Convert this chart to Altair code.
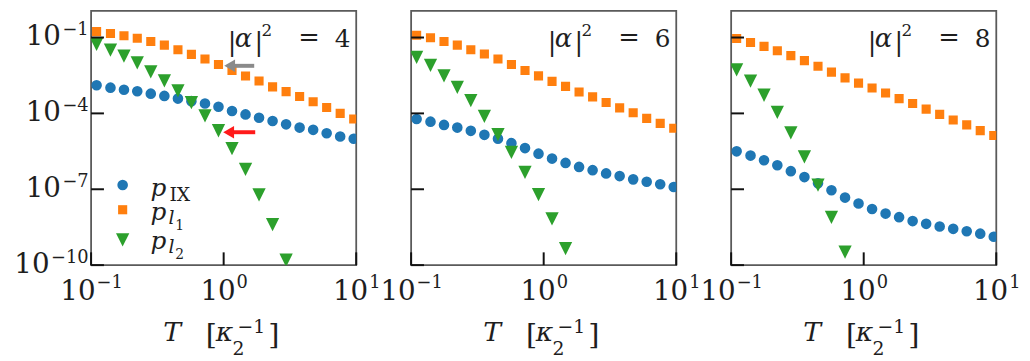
import math
import altair as alt
import pandas as pd

# ---------------- data ----------------
T = [0.110, 0.140, 0.177, 0.223, 0.282, 0.357, 0.452, 0.571, 0.723, 0.914,
     1.156, 1.462, 1.849, 2.339, 2.958, 3.741, 4.732, 5.984, 7.568, 9.572]

panel_alpha2 = ["4", "6", "8"]

p_IX = [
    [1.29e-3, 1.04e-3, 8.65e-4, 7.50e-4, 6.04e-4, 4.91e-4, 3.85e-4, 3.05e-4, 2.45e-4, 1.82e-4,
     1.24e-4, 9.1e-5, 6.76e-5, 5.01e-5, 3.69e-5, 2.74e-5, 2.23e-5, 1.64e-5, 1.22e-5, 9.9e-6],
    [6.01e-5, 4.71e-5, 3.50e-5, 2.74e-5, 2.04e-5, 1.42e-5, 9.9e-6, 6.67e-6, 4.25e-6, 2.56e-6,
     1.63e-6, 1.10e-6, 7.67e-7, 5.69e-7, 4.23e-7, 3.32e-7, 2.46e-7, 1.98e-7, 1.57e-7, 1.23e-7],
    [3.15e-6, 2.14e-6, 1.40e-6, 8.93e-7, 5.20e-7, 3.03e-7, 1.72e-7, 9.14e-8, 4.69e-8, 2.73e-8,
     1.65e-8, 1.09e-8, 7.9e-9, 5.5e-9, 4.3e-9, 3.38e-9, 2.72e-9, 2.19e-9, 1.76e-9, 1.33e-9],
]
p_l1 = [
    [1.72e-1, 1.44e-1, 1.17e-1, 9.40e-2, 6.97e-2, 5.00e-2, 3.30e-2, 2.16e-2, 1.42e-2, 8.55e-3,
     5.01e-3, 3.02e-3, 1.91e-3, 1.12e-3, 7.24e-4, 4.68e-4, 2.88e-4, 1.70e-4, 1.00e-4, 6.0e-5],
    [1.23e-1, 9.77e-2, 6.97e-2, 5.00e-2, 3.30e-2, 2.22e-2, 1.42e-2, 8.55e-3, 4.98e-3, 3.05e-3,
     1.85e-3, 1.17e-3, 7.03e-4, 4.49e-4, 2.69e-4, 1.66e-4, 1.06e-4, 6.34e-5, 4.05e-5, 2.58e-5],
    [9.14e-2, 6.37e-2, 4.45e-2, 3.01e-2, 1.92e-2, 1.22e-2, 7.33e-3, 4.27e-3, 2.55e-3, 1.58e-3,
     1.01e-3, 6.43e-4, 3.85e-4, 2.45e-4, 1.48e-4, 9.1e-5, 5.5e-5, 3.50e-5, 2.09e-5, 1.33e-5],
]
p_l2 = [
    [5.32e-2, 3.16e-2, 1.85e-2, 9.86e-3, 4.39e-3, 1.95e-3, 7.71e-4, 2.69e-4, 7.94e-5, 2.06e-5,
     4.03e-6, 6.07e-7, 5.98e-8, 4.01e-9, 1.56e-10, None, None, None, None, None],
    [1.65e-2, 7.87e-3, 3.05e-3, 1.07e-3, 3.21e-4, 7.6e-5, 1.46e-5, 2.88e-6, 4.67e-7, 6.15e-8,
     6.70e-9, 4.49e-10, None, None, None, None, None, None, None, None],
    [5.25e-3, 1.90e-3, 5.22e-4, 1.09e-4, 1.70e-5, 1.89e-6, 1.47e-7, 7.73e-9, 3.30e-10, None,
     None, None, None, None, None, None, None, None, None, None],
]

# axes
x_domain = [0.1, 10]
y_domain = [1e-10, 1.13]
x_tick_values = [0.1, 1, 10]
x_tick_exps = ["−1", "0", "1"]
y_tick_values = [1e-10, 1e-7, 1e-4, 1e-1]
y_tick_exps = ["−10", "−7", "−4", "−1"]

# legend (inside the first panel)
legend_marker_T = 0.173
legend_marker_p = [1.47e-7, 1.55e-8, 1.0e-9]
legend_text_T = 0.281
legend_text_p = [5.47e-8, 5.9e-9, 4.5e-10]

# arrows in the first panel
arrow_tail_T = [1.70, 1.73]
arrow_head_T = [1.11, 1.09]
arrow_p = [7.6e-3, 1.8e-5]
arrow_colors = ["#8a8a8a", "#ff1a1a"]

# panel label anchor (right end, baseline) and axis-title anchor
label_T = 9.05
label_p = 0.0406
title_T = 1.0

# ---------------- styling ----------------
FONT = "DejaVu Serif"
TXT = "#1e1e1e"
series = [
    ("IX", p_IX, "#1f77b4", "circle", 115),
    ("l1", p_l1, "#ff7f0e", "square", 85),
    ("l2", p_l2, "#2ca02c", "M-1,-1L1,-1L0,1Z", 180),
]

BIG = 28     # size of "10"
EXP = 18     # size of exponents
DIGIT = 0.636
MINUS = 0.838


def text_width(s, size):
    return sum(MINUS * size if ch == "−" else DIGIT * size for ch in s)


xscale = alt.Scale(type="log", domain=x_domain, nice=False)
yscale = alt.Scale(type="log", domain=y_domain, nice=False)
X = alt.X("T:Q", scale=xscale)
Y = alt.Y("p:Q", scale=yscale)


def anchor(t, p):
    return pd.DataFrame({"T": [t], "p": [p]})


def piece(df, text, dx, dy, size, style="normal", align="left"):
    return alt.Chart(df).mark_text(text=text, dx=dx, dy=dy, fontSize=size, fontStyle=style,
                                   align=align, baseline="alphabetic", font=FONT,
                                   color=TXT).encode(x=X, y=Y)


yexpr = " : ".join(
    f"(round(log(datum.value)/LN10) == {int(round(math.log10(v)))}) ? '{e}'"
    for v, e in zip(y_tick_values, y_tick_exps)) + " : ''"

tick_x_end = 0.125     # inward tick length on x
tick_y_end = 3.2e-10   # inward tick length on y


def panel(k):
    layers = []
    first = True
    for name, vals, color, shape, size in series:
        df = pd.DataFrame({"T": T, "p": vals[k]}).dropna()
        if first:
            yax = None
            if k == 0:
                yax = alt.Axis(values=y_tick_values, labelExpr=yexpr, ticks=False, domain=False,
                               grid=False, labelFont=FONT, labelFontSize=EXP, labelColor=TXT,
                               labelPadding=3, labelBaseline="alphabetic", labelOffset=-3,
                               labelOverlap=False, labelFlush=False, labelBound=False,
                               title=None, minExtent=83, maxExtent=83)
            enc = dict(x=alt.X("T:Q", scale=xscale, axis=None),
                       y=alt.Y("p:Q", scale=yscale, axis=yax))
        else:
            enc = dict(x=X, y=Y)
        first = False
        layers.append(alt.Chart(df).mark_point(filled=True, opacity=1, color=color, shape=shape,
                                               size=size, clip=True, strokeWidth=0).encode(**enc))

    # inward ticks
    yt = pd.DataFrame({"y": y_tick_values, "x0": x_domain[0], "x1": tick_x_end})
    layers.append(alt.Chart(yt).mark_rule(color="#111", strokeWidth=2).encode(
        x=alt.X("x0:Q", scale=xscale), x2="x1:Q", y=alt.Y("y:Q", scale=yscale)))
    xt = pd.DataFrame({"x": x_tick_values, "y0": y_domain[0], "y1": tick_y_end})
    layers.append(alt.Chart(xt).mark_rule(color="#111", strokeWidth=2).encode(
        x=alt.X("x:Q", scale=xscale), y=alt.Y("y0:Q", scale=yscale), y2="y1:Q"))

    # x tick labels: "10" + exponent
    w10 = text_width("10", BIG)
    for v, e in zip(x_tick_values, x_tick_exps):
        a = anchor(v, y_domain[0])
        off = (w10 - text_width(e, EXP)) / 2
        layers.append(piece(a, "10", off, 35, BIG, align="right"))
        layers.append(piece(a, e, off + 1, 23, EXP))

    # y tick label mantissas (exponents are the axis labels)
    if k == 0:
        for v, e in zip(y_tick_values, y_tick_exps):
            a = anchor(x_domain[0], v)
            layers.append(piece(a, "10", -(3 + text_width(e, EXP) + 1), 8, BIG, align="right"))

    # x-axis title  T [κ_2^{-1}]
    a = anchor(title_T, y_domain[0])
    layers += [
        piece(a, "T", -61, 77, 27, "italic"),
        piece(a, "[", -18, 80, 29),
        piece(a, "κ", -8, 77, 27, "italic"),
        piece(a, "2", 9, 91, 19),
        piece(a, "−1", 14, 69, 19),
        piece(a, "]", 45, 80, 29),
    ]

    # panel label |α|^2 = n
    a = anchor(label_T, label_p)
    layers += [
        piece(a, panel_alpha2[k], 0, 0, 25, align="right"),
        piece(a, "=", -31, -1, 26, align="right"),
        piece(a, "2", -90, -12, 17),
        piece(a, "|", -97, 4, 26),
        piece(a, "α", -117, 0, 26, "italic"),
        piece(a, "|", -124, 4, 26),
    ]

    if k == 0:
        # arrows
        ar = pd.DataFrame({"t0": arrow_tail_T, "t1": arrow_head_T, "p": arrow_p, "c": arrow_colors})
        layers.append(alt.Chart(ar).mark_rule(strokeWidth=4).encode(
            x=alt.X("t0:Q", scale=xscale), x2="t1:Q", y=alt.Y("p:Q", scale=yscale),
            color=alt.Color("c:N", scale=None)))
        layers.append(alt.Chart(ar).mark_point(shape="triangle-left", filled=True, opacity=1,
                                               size=160, strokeWidth=0).encode(
            x=alt.X("t1:Q", scale=xscale), y=alt.Y("p:Q", scale=yscale),
            color=alt.Color("c:N", scale=None)))
        # legend markers
        for i, (name, vals, color, shape, size) in enumerate(series):
            layers.append(alt.Chart(anchor(legend_marker_T, legend_marker_p[i])).mark_point(
                filled=True, opacity=1, color=color, shape=shape, size=size,
                strokeWidth=0).encode(x=X, y=Y))
        # legend labels p_IX, p_{l_1}, p_{l_2}
        r0 = anchor(legend_text_T, legend_text_p[0])
        r1 = anchor(legend_text_T, legend_text_p[1])
        r2 = anchor(legend_text_T, legend_text_p[2])
        layers += [
            piece(r0, "p", 0, 0, 25, "italic"),
            piece(r0, "IX", 19, 5, 19),
            piece(r1, "p", 0, 0, 25, "italic"),
            piece(r1, "l", 18, 4, 19, "italic"),
            piece(r1, "1", 25, 10, 14),
            piece(r2, "p", 0, 0, 25, "italic"),
            piece(r2, "l", 18, 4, 19, "italic"),
            piece(r2, "2", 25, 10, 14),
        ]

    return alt.layer(*layers).properties(width=268, height=257)


chart = alt.hconcat(panel(0), panel(1), panel(2), spacing=55.5, bounds="flush").properties(
    padding={"left": 0, "top": 0, "right": 0, "bottom": 0}
).configure_view(stroke="#5a5a5a", strokeWidth=1.8)

chart.save("out.html", embed_options={"renderer": "svg", "actions": False})
